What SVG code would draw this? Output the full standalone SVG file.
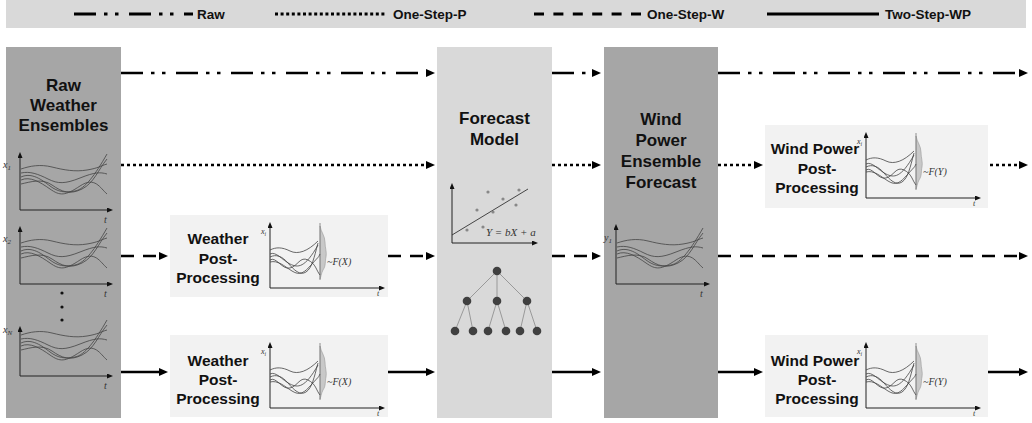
<svg xmlns="http://www.w3.org/2000/svg" xmlns:xlink="http://www.w3.org/1999/xlink" width="1032" height="423" viewBox="0 0 1032 423">
<style>
.lbl{font-family:"Liberation Sans",Arial,sans-serif;font-weight:bold;fill:#111;text-anchor:middle}
.big{font-size:17px}
.mid{font-size:15.5px}
.leg{font-size:13.5px;text-anchor:start}
.math{font-family:"Liberation Serif","DejaVu Serif",serif;font-style:italic;fill:#333}
.ax{stroke:#222;stroke-width:1;fill:none}
.cv{stroke:#444;stroke-width:0.8;fill:none}
.conn{stroke:#000;stroke-width:2.6;fill:none}
.raw{stroke-dasharray:22 8 3.5 7.5 3.5 10.5}
.p{stroke-dasharray:3 3}
.w{stroke-dasharray:13 9}
.dark{fill:#a6a6a6}
.light{fill:#d9d9d9}
.pp{fill:#f2f2f2}
</style>
<defs>
<marker id="ah" markerUnits="userSpaceOnUse" markerWidth="9" markerHeight="8" refX="2" refY="4" orient="auto"><path d="M0,0 L9,4 L0,8 Z" fill="#000"/></marker>
<marker id="sa" markerUnits="userSpaceOnUse" markerWidth="6" markerHeight="5" refX="1" refY="2.5" orient="auto"><path d="M0,0 L6,2.5 L0,5 Z" fill="#111"/></marker>
<g id="ens">
<path class="cv" d="M1,-41 C10,-44 20,-46 32,-43 S55,-38 67,-40 S80,-44 87,-46"/>
<path class="cv" d="M1,-37 C10,-39 18,-36 28,-31 S45,-26 60,-32 S80,-38 87,-36"/>
<path class="cv" d="M1,-33 C12,-38 22,-30 30,-24 S45,-17 55,-19 S75,-35 87,-56"/>
<path class="cv" d="M1,-30 C10,-34 20,-28 30,-21 S45,-14 60,-24 S80,-22 87,-16"/>
<path class="cv" d="M1,-26 C10,-28 22,-32 32,-25 S50,-15 62,-21 S78,-40 87,-51"/>
</g>
<g id="lchart">
<path class="ax" d="M0,0 V-53" marker-end="url(#sa)"/>
<path class="ax" d="M0,0 H88" marker-end="url(#sa)"/>
<use xlink:href="#ens"/>
<text class="math" x="84" y="13" font-size="10">t</text>
</g>
<g id="ppchart">
<path d="M50,-62 C51,-56 55,-52 55,-46 C55,-40 57,-36 56,-31 C55,-27 56,-22 53,-18 C51,-14 51,-11 50,-9 Z" fill="#c8c8c8" stroke="#999" stroke-width="0.6"/>
<path d="M50,-65 V-8" stroke="#777" stroke-width="0.8"/>
<path class="ax" d="M0,0 V-61" marker-end="url(#sa)"/>
<path class="ax" d="M0,0 H110" marker-end="url(#sa)"/>
<path class="cv" d="M0,-38 C6,-41 12,-41 20,-37 S38,-37 48,-47"/>
<path class="cv" d="M0,-34 C6,-37 12,-28 20,-24 S35,-20 48,-43"/>
<path class="cv" d="M0,-31 C6,-34 12,-32 18,-25 S30,-12 36,-16 S44,-30 48,-45"/>
<path class="cv" d="M0,-28 C6,-32 12,-18 20,-20 S30,-32 38,-28 S46,-18 50,-13"/>
<path class="cv" d="M0,-26 C8,-28 14,-22 22,-17 S34,-15 42,-24 S48,-30 50,-34"/>
<text class="math" x="-9" y="-54" font-size="8">x<tspan font-size="5.5" dy="1.5">i</tspan></text>
<text class="math" x="107" y="8" font-size="8">t</text>
</g>
</defs>

<g id="legend">
<rect x="6" y="0" width="1020" height="28" class="light"/>
<path d="M74,14 H193" stroke="#000" stroke-width="3" class="raw"/>
<text class="lbl leg" x="197" y="19">Raw</text>
<path d="M275,14 H387" stroke="#000" stroke-width="3" stroke-dasharray="3 2.6"/>
<text class="lbl leg" x="393" y="19">One-Step-P</text>
<path d="M534,14 H641" stroke="#000" stroke-width="3" stroke-dasharray="10 9.4"/>
<text class="lbl leg" x="647" y="19">One-Step-W</text>
<path d="M767,14 H879" stroke="#000" stroke-width="3"/>
<text class="lbl leg" x="885" y="19">Two-Step-WP</text>
</g>

<g id="raw-weather">
<rect x="6" y="47" width="115" height="371" class="dark"/>
<text class="lbl big" x="63.5" y="91">Raw</text>
<text class="lbl big" x="63.5" y="111">Weather</text>
<text class="lbl big" x="63.5" y="131">Ensembles</text>
<use xlink:href="#lchart" x="20" y="210"/>
<text class="math" x="3" y="168" font-size="10">x<tspan font-size="7" dy="2">1</tspan></text>
<use xlink:href="#lchart" x="20" y="284"/>
<text class="math" x="3" y="242" font-size="10">x<tspan font-size="7" dy="2">2</tspan></text>
<circle cx="62" cy="293" r="1.6" fill="#111"/>
<circle cx="62" cy="307" r="1.6" fill="#111"/>
<circle cx="62" cy="320" r="1.6" fill="#111"/>
<path class="ax" d="M20,376 V331" marker-end="url(#sa)"/>
<path class="ax" d="M20,376 H108" marker-end="url(#sa)"/>
<use xlink:href="#ens" x="20" y="376"/>
<text class="math" x="104" y="389" font-size="10">t</text>
<text class="math" x="3" y="333" font-size="10">x<tspan font-size="7" dy="2">N</tspan></text>
</g>

<g id="forecast-model">
<rect x="437" y="47" width="115" height="371" class="light"/>
<text class="lbl big" x="494.5" y="124">Forecast</text>
<text class="lbl big" x="494.5" y="145">Model</text>
<path class="ax" d="M452,243 V188" marker-end="url(#sa)"/>
<path class="ax" d="M452,243 H533" marker-end="url(#sa)"/>
<path d="M452,235 L528,189" stroke="#333" stroke-width="0.9"/>
<g fill="#888">
<circle cx="488" cy="192" r="1.6"/><circle cx="519" cy="190" r="1.6"/><circle cx="503" cy="199" r="1.6"/>
<circle cx="516" cy="205" r="1.6"/><circle cx="477" cy="210" r="1.6"/><circle cx="493" cy="212" r="1.6"/>
<circle cx="467" cy="230" r="1.6"/><circle cx="483" cy="227" r="1.6"/>
</g>
<text class="math" x="486" y="236" font-size="11">Y = bX + a</text>
<g stroke="#999" stroke-width="1">
<path d="M497,271 L467,301 M497,271 L497,301 M497,271 L527,301"/>
<path d="M467,301 L455,331 M467,301 L473,331 M497,301 L488,331 M497,301 L506,331 M527,301 L520,331 M527,301 L537,331"/>
</g>
<g fill="#404040">
<circle cx="497" cy="271" r="4.3"/>
<circle cx="467" cy="301" r="4.3"/><circle cx="497" cy="301" r="4.3"/><circle cx="527" cy="301" r="4.3"/>
<circle cx="455" cy="331" r="4.3"/><circle cx="473" cy="331" r="4.3"/><circle cx="488" cy="331" r="4.3"/>
<circle cx="506" cy="331" r="4.3"/><circle cx="520" cy="331" r="4.3"/><circle cx="537" cy="331" r="4.3"/>
</g>
</g>

<g id="wind-power-ensemble">
<rect x="604" y="47" width="114" height="371" class="dark"/>
<text class="lbl big" x="661" y="125">Wind</text>
<text class="lbl big" x="661" y="146">Power</text>
<text class="lbl big" x="661" y="167">Ensemble</text>
<text class="lbl big" x="661" y="188">Forecast</text>
<path class="ax" d="M616,284 V229" marker-end="url(#sa)"/>
<path class="ax" d="M616,284 H705" marker-end="url(#sa)"/>
<use xlink:href="#ens" x="616" y="284"/>
<text class="math" x="700" y="297" font-size="10">t</text>
<text class="math" x="604" y="241" font-size="10">y<tspan font-size="7" dy="2">1</tspan></text>
</g>

<g id="weather-pp-1">
<rect x="170" y="215" width="218" height="82" class="pp"/>
<text class="lbl mid" x="218" y="244">Weather</text>
<text class="lbl mid" x="218" y="264">Post-</text>
<text class="lbl mid" x="218" y="283">Processing</text>
<use xlink:href="#ppchart" x="270" y="288"/>
<text class="math" x="327" y="265" font-size="10">~F(X)</text>
</g>

<g id="weather-pp-2">
<rect x="170" y="335" width="218" height="82" class="pp"/>
<text class="lbl mid" x="218" y="366">Weather</text>
<text class="lbl mid" x="218" y="385">Post-</text>
<text class="lbl mid" x="218" y="404">Processing</text>
<use xlink:href="#ppchart" x="270" y="408"/>
<text class="math" x="327" y="385" font-size="10">~F(X)</text>
</g>

<g id="wind-pp-1">
<rect x="765" y="125" width="223" height="83" class="pp"/>
<text class="lbl mid" x="815" y="154">Wind Power</text>
<text class="lbl mid" x="817" y="174">Post-</text>
<text class="lbl mid" x="817" y="193">Processing</text>
<use xlink:href="#ppchart" x="866" y="198"/>
<text class="math" x="923" y="175" font-size="10">~F(Y)</text>
</g>

<g id="wind-pp-2">
<rect x="765" y="335" width="223" height="82" class="pp"/>
<text class="lbl mid" x="815" y="366">Wind Power</text>
<text class="lbl mid" x="817" y="385">Post-</text>
<text class="lbl mid" x="817" y="404">Processing</text>
<use xlink:href="#ppchart" x="866" y="408"/>
<text class="math" x="923" y="385" font-size="10">~F(Y)</text>
</g>

<g id="connectors">
<path class="conn raw" d="M121,73 H428" marker-end="url(#ah)"/>
<path class="conn raw" d="M552,73 H594" marker-end="url(#ah)"/>
<path class="conn raw" d="M718,73 H1021" marker-end="url(#ah)"/>

<path class="conn p" d="M121,165 H428" marker-end="url(#ah)"/>
<path class="conn p" d="M552,165 H594" marker-end="url(#ah)"/>
<path class="conn p" d="M718,165 H756" marker-end="url(#ah)"/>
<path class="conn p" d="M990,165 H1021" marker-end="url(#ah)"/>

<path class="conn w" d="M121,256 H161" marker-end="url(#ah)"/>
<path class="conn w" d="M388,256 H428" marker-end="url(#ah)"/>
<path class="conn w" d="M552,256 H594" marker-end="url(#ah)"/>
<path class="conn w" d="M718,256 H1021" marker-end="url(#ah)"/>

<path class="conn" d="M121,372 H161" marker-end="url(#ah)"/>
<path class="conn" d="M388,372 H428" marker-end="url(#ah)"/>
<path class="conn" d="M552,372 H594" marker-end="url(#ah)"/>
<path class="conn" d="M718,372 H756" marker-end="url(#ah)"/>
<path class="conn" d="M988,372 H1021" marker-end="url(#ah)"/>
</g>
</svg>
